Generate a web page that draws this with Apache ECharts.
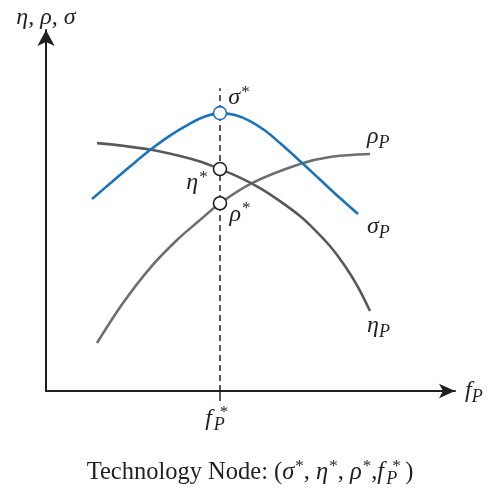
<!DOCTYPE html>
<html>
<head>
<meta charset="utf-8">
<script src="https://cdn.jsdelivr.net/npm/echarts@6/dist/echarts.min.js"></script>
<style>
  html, body { margin: 0; padding: 0; background: #fff; }
  #chart { width: 500px; height: 498px; }
</style>
</head>
<body>
<div id="chart"></div>
<script>
// Operating frequency of the optimal node
const fStar = 43.39;
const dashTop = 85.8;

// σ_P curve
const sigmaX = [11.47, 15.96, 20.95, 25.94, 30.92, 35.91, 39.65, 43.39, 47.13, 50.87, 54.61, 58.35, 63.34, 68.33, 73.32, 77.81];
const sigmaY = [54.39, 58.78, 63.60, 68.27, 72.38, 75.78, 77.76, 78.75, 78.19, 76.49, 73.80, 70.25, 65.16, 59.92, 54.67, 50.14];

// η_P curve
const etaX = [12.72, 19.70, 25.94, 33.42, 38.40, 43.39, 48.38, 53.37, 58.35, 63.34, 67.08, 70.82, 74.56, 77.81, 80.80];
const etaY = [70.25, 69.41, 68.41, 66.57, 65.01, 62.89, 60.48, 57.51, 53.82, 49.58, 45.61, 41.08, 35.41, 29.46, 22.66];

// ρ_P curve
const rhoX = [12.72, 19.20, 25.94, 32.67, 38.40, 43.39, 51.37, 63.34, 70.82, 80.80];
const rhoY = [13.60, 24.93, 34.84, 42.78, 48.44, 53.20, 58.92, 64.31, 66.29, 67.14];

// Values at the optimum f_P*
const sigmaStar = 78.75;
const etaStar = 62.89;
const rhoStar = 53.20;

const INK = '#231f20';
const BLUE = '#1b73bb';
const ETA_GRAY = '#58595b';
const RHO_GRAY = '#6d6e71';
const SERIF = "'Liberation Serif', 'DejaVu Serif', serif";

const pairs = (xs, ys) => xs.map((x, i) => [x, ys[i]]);

// Rich-text pieces for math labels; every piece is laid out left to right
const mathRich = {
  g: { fontFamily: SERIF, fontStyle: 'italic', fontWeight: 'normal', fontSize: 24, lineHeight: 30, align: 'left', color: INK },
  s: { fontFamily: SERIF, fontWeight: 'normal', fontSize: 17, lineHeight: 17, verticalAlign: 'top', align: 'left', color: INK, padding: [1, 0, 0, 1] },
  p: { fontFamily: SERIF, fontStyle: 'italic', fontWeight: 'normal', fontSize: 18, lineHeight: 18, verticalAlign: 'bottom', align: 'left', color: INK },
  pz: { fontFamily: SERIF, fontStyle: 'italic', fontWeight: 'normal', fontSize: 18, lineHeight: 18, verticalAlign: 'bottom', align: 'left', color: INK, width: 0, padding: [0, 0, 0, 2] },
  sp: { fontFamily: SERIF, fontWeight: 'normal', fontSize: 17, lineHeight: 17, verticalAlign: 'top', align: 'left', color: INK, width: 15, padding: [0, 0, 0, 6] }
};

const captionRich = {
  n: { fontFamily: SERIF, fontWeight: 'normal', fontSize: 24.5, lineHeight: 30, align: 'left', color: INK },
  g: { fontFamily: SERIF, fontStyle: 'italic', fontWeight: 'normal', fontSize: 24.5, lineHeight: 30, align: 'left', color: INK },
  s: { fontFamily: SERIF, fontWeight: 'normal', fontSize: 17, lineHeight: 17, verticalAlign: 'top', align: 'left', color: INK, padding: [0, 0, 0, 1] },
  pz: { fontFamily: SERIF, fontStyle: 'italic', fontWeight: 'normal', fontSize: 18, lineHeight: 18, verticalAlign: 'bottom', align: 'left', color: INK, width: 0, padding: [0, 0, 0, 2] },
  sp: { fontFamily: SERIF, fontWeight: 'normal', fontSize: 17, lineHeight: 17, verticalAlign: 'top', align: 'left', color: INK, width: 13, padding: [0, 0, 0, 6] }
};

function curve(name, xs, ys, color, labelText, offset) {
  return {
    name: name,
    type: 'line',
    data: pairs(xs, ys),
    smooth: 0.35,
    showSymbol: false,
    symbol: 'none',
    lineStyle: { color: color, width: 2.6 },
    emphasis: { disabled: true },
    endLabel: {
      show: true,
      formatter: labelText,
      offset: offset,
      rich: mathRich
    },
    z: 3
  };
}

// Hollow marker at the optimum on one curve, with its starred label
function node(name, value, stroke, labelText, offset) {
  return {
    name: name,
    type: 'scatter',
    color: '#ffffff',
    symbol: 'circle',
    symbolSize: 13,
    z: 10,
    emphasis: { disabled: true },
    itemStyle: { color: '#ffffff', opacity: 1, borderWidth: 1.6, borderColor: stroke },
    label: {
      show: true,
      position: 'inside',
      color: INK,
      formatter: labelText,
      offset: offset,
      rich: mathRich
    },
    data: [[fStar, value]]
  };
}

const chart = echarts.init(document.getElementById('chart'), null, { renderer: 'canvas' });

chart.setOption({
  animation: false,
  backgroundColor: '#ffffff',
  title: {
    text: '{n|Technology Node: (}{g|σ}{s|*}{n|, }{g|η}{s|*}{n|, }{g|ρ}{s|*}{n|,}{g|f}{pz|P}{sp|*}{n|)}',
    left: 'center',
    top: 453,
    textStyle: { rich: captionRich, fontWeight: 'normal' }
  },
  grid: { left: 46, right: 45, top: 30, bottom: 107 },
  xAxis: {
    type: 'value',
    min: 0,
    max: 102,
    name: '{g|f}{p|P}',
    nameLocation: 'end',
    nameGap: 10,
    nameTextStyle: { rich: mathRich, verticalAlign: 'middle' },
    axisLine: {
      show: true,
      symbol: ['none', 'arrow'],
      symbolSize: [11, 16],
      lineStyle: { color: INK, width: 2 }
    },
    axisTick: {
      show: true,
      customValues: [fStar],
      length: 10,
      lineStyle: { color: INK, width: 1.5 }
    },
    axisLabel: {
      show: true,
      customValues: [fStar],
      margin: 13,
      formatter: () => '{g|f}{pz|P}{sp|*}',
      rich: mathRich
    },
    splitLine: { show: false }
  },
  yAxis: {
    type: 'value',
    min: 0,
    max: 102.3,
    name: '{g|η, ρ, σ}',
    nameLocation: 'end',
    nameGap: -3,
    nameTextStyle: { rich: mathRich },
    axisLine: {
      show: true,
      symbol: ['none', 'arrow'],
      symbolSize: [13, 16],
      lineStyle: { color: INK, width: 2 }
    },
    axisTick: { show: false },
    axisLabel: { show: false },
    splitLine: { show: false }
  },
  series: [
    {
      name: 'optimum',
      type: 'line',
      data: [[fStar, 0], [fStar, dashTop]],
      symbol: 'none',
      emphasis: { disabled: true },
      lineStyle: { color: INK, width: 1.5, type: [6, 4] },
      z: 2
    },
    curve('rho', rhoX, rhoY, RHO_GRAY, '{g|ρ}{p|P}', [-11, -17]),
    curve('eta', etaX, etaY, ETA_GRAY, '{g|η}{p|P}', [-11, 15]),
    curve('sigma', sigmaX, sigmaY, BLUE, '{g|σ}{p|P}', [1, 13]),
    node('sigmaNode', sigmaStar, BLUE, '{g|σ}{s|*}', [19, -15]),
    node('etaNode', etaStar, INK, '{g|η}{s|*}', [-23, 14]),
    node('rhoNode', rhoStar, INK, '{g|ρ}{s|*}', [20, 11])
  ]
});
</script>
</body>
</html>
